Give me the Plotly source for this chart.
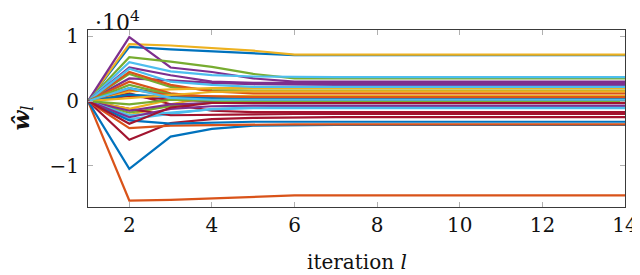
import plotly.graph_objects as go

iterations = [1, 2, 3, 4, 5, 6, 7, 8, 9, 10, 11, 12, 13, 14]

# estimated weight trajectories (actual values, axis shown in units of 10^4)
w01 = [0, 8400, 8000, 7700, 7400, 7100, 7100, 7100, 7100, 7100, 7100, 7100, 7100, 7100]
w02 = [0, -15400, -15300, -15100, -14900, -14600, -14600, -14600, -14600, -14600, -14600, -14600, -14600, -14600]
w03 = [0, 8800, 8600, 8200, 7800, 7200, 7200, 7200, 7200, 7200, 7200, 7200, 7200, 7200]
w04 = [0, 9900, 5200, 4500, 3500, 3000, 3000, 3000, 3000, 3000, 3000, 3000, 3000, 3000]
w05 = [0, 6800, 6100, 5300, 4200, 3500, 3500, 3500, 3500, 3500, 3500, 3500, 3500, 3500]
w06 = [0, 6000, 4600, 4000, 3800, 3700, 3700, 3700, 3700, 3700, 3700, 3700, 3700, 3700]
w07 = [0, -6000, -3400, -2800, -2600, -2500, -2500, -2500, -2500, -2500, -2500, -2500, -2500, -2500]
w08 = [0, -10500, -5500, -4300, -3800, -3700, -3700, -3700, -3700, -3700, -3700, -3700, -3700, -3700]
w09 = [0, -4200, -3800, -3700, -3600, -3600, -3600, -3600, -3600, -3600, -3600, -3600, -3600, -3600]
w10 = [0, -2200, -500, 700, 800, 800, 800, 800, 800, 800, 800, 800, 800, 800]
w11 = [0, 3500, 3200, 2800, 2600, 2500, 2500, 2500, 2500, 2500, 2500, 2500, 2500, 2500]
w12 = [0, 4200, 2200, 1700, 1600, 1600, 1600, 1600, 1600, 1600, 1600, 1600, 1600, 1600]
w13 = [0, -2800, -2000, -1200, -1000, -800, -800, -800, -800, -800, -800, -800, -800, -800]
w14 = [0, 1200, -500, -1500, -1700, -1700, -1700, -1700, -1700, -1700, -1700, -1700, -1700, -1700]
w15 = [0, -3000, -3500, -3300, -3200, -3200, -3200, -3200, -3200, -3200, -3200, -3200, -3200, -3200]
w16 = [0, 4500, 2500, 1500, 1200, 1200, 1200, 1200, 1200, 1200, 1200, 1200, 1200, 1200]
w17 = [0, 1500, 1800, 2000, 2000, 2000, 2000, 2000, 2000, 2000, 2000, 2000, 2000, 2000]
w18 = [0, 5200, 4000, 3000, 2800, 2800, 2800, 2800, 2800, 2800, 2800, 2800, 2800, 2800]
w19 = [0, -1800, -800, -200, 0, 0, 0, 0, 0, 0, 0, 0, 0, 0]
w20 = [0, 5000, 3000, 2500, 2200, 2200, 2200, 2200, 2200, 2200, 2200, 2200, 2200, 2200]
w21 = [0, -1200, -2200, -2100, -2000, -2000, -2000, -2000, -2000, -2000, -2000, -2000, -2000, -2000]
w22 = [0, 2000, 800, 300, 200, 200, 200, 200, 200, 200, 200, 200, 200, 200]
w23 = [0, 3000, 1200, 600, 500, 500, 500, 500, 500, 500, 500, 500, 500, 500]
w24 = [0, -1200, 200, 500, 600, 600, 600, 600, 600, 600, 600, 600, 600, 600]
w25 = [0, -1500, -500, -300, -300, -300, -300, -300, -300, -300, -300, -300, -300, -300]
w26 = [0, 2500, 1000, 400, 300, 300, 300, 300, 300, 300, 300, 300, 300, 300]
w27 = [0, -2200, -1800, -1300, -1100, -1100, -1100, -1100, -1100, -1100, -1100, -1100, -1100, -1100]
w28 = [0, 800, 200, 0, 0, 0, 0, 0, 0, 0, 0, 0, 0, 0]
w29 = [0, 1000, 600, 400, 300, 300, 300, 300, 300, 300, 300, 300, 300, 300]
w30 = [0, 1800, 900, 700, 600, 600, 600, 600, 600, 600, 600, 600, 600, 600]
w31 = [0, 500, 1000, 1400, 1500, 1500, 1500, 1500, 1500, 1500, 1500, 1500, 1500, 1500]
w32 = [0, -2500, -1200, -800, -700, -700, -700, -700, -700, -700, -700, -700, -700, -700]
w33 = [0, -500, 200, 0, -100, -100, -100, -100, -100, -100, -100, -100, -100, -100]
w34 = [0, 2000, 500, 200, 200, 200, 200, 200, 200, 200, 200, 200, 200, 200]
w35 = [0, -3500, -1000, -300, -300, -300, -300, -300, -300, -300, -300, -300, -300, -300]

series = [w01, w02, w03, w04, w05, w06, w07, w08, w09, w10, w11, w12, w13, w14,
          w15, w16, w17, w18, w19, w20, w21, w22, w23, w24, w25, w26, w27, w28,
          w29, w30, w31, w32, w33, w34, w35]

x_ticks = [2, 4, 6, 8, 10, 12, 14]
y_ticks = [-10000, 0, 10000]
y_tick_labels = ["−1", "0", "1"]

palette = ["#0072BD", "#D95319", "#EDB120", "#7E2F8E", "#77AC30", "#4DBEEE", "#A2142F"]

FONT = "DejaVu Serif, Liberation Serif, serif"
TXT = "#111111"

fig = go.Figure()
for i, s in enumerate(series):
    fig.add_trace(go.Scatter(
        x=iterations, y=s, mode="lines",
        line=dict(color=palette[i % len(palette)], width=2.2),
        showlegend=False, hoverinfo="skip"))

axis_common = dict(
    showgrid=False, zeroline=False, showline=True, mirror="ticks",
    linecolor="#3a3a3a", linewidth=1.2, automargin=False,
    ticks="inside", ticklen=5, tickcolor="#b0b0b0", tickwidth=1,
    ticklabeloverflow="allow",
    tickfont=dict(family=FONT, size=20, color=TXT),
)

# the page body adds an 8px offset, so the figure is sized to fit the window
fig.update_layout(
    width=632, height=267,
    margin=dict(l=80, r=15, t=22, b=68),
    font=dict(family=FONT, color=TXT),
    paper_bgcolor="white", plot_bgcolor="white",
    xaxis=dict(range=[1, 14], tickvals=x_ticks, **axis_common),
    yaxis=dict(range=[-16400, 11000], tickvals=y_ticks, ticktext=y_tick_labels,
               ticklabelstandoff=4, **axis_common),
    annotations=[
        dict(text="·10<sup>4</sup>", xref="paper", yref="paper", x=0.0, y=1.0,
             xanchor="left", yanchor="bottom", xshift=5, yshift=-7, showarrow=False,
             font=dict(family=FONT, size=22, color=TXT)),
        dict(text="iteration <i>l</i>", xref="paper", yref="paper", x=0.5, y=0.0,
             xanchor="center", yanchor="middle", yshift=-55, showarrow=False,
             font=dict(family=FONT, size=20, color=TXT)),
        dict(text="<b><i>ŵ</i></b><i><sub>l</sub></i>", xref="paper", yref="paper", x=0.0, y=0.5,
             xanchor="center", yanchor="middle", xshift=-66, textangle=-90, showarrow=False,
             font=dict(family=FONT, size=23, color=TXT)),
    ],
)

fig.write_html("out.html")
